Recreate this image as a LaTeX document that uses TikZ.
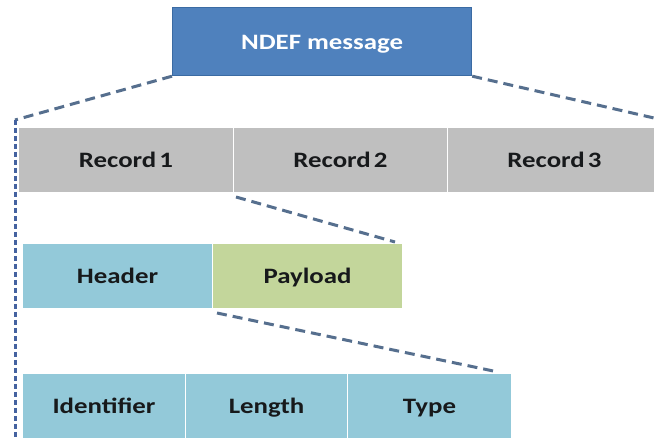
\documentclass[tikz,border=0pt]{standalone}
\usepackage{fontspec}
\newfontfamily\lblfont{Carlito}[FakeStretch=1.22]
\usetikzlibrary{calc}

\definecolor{msgblue}{HTML}{4F81BD}
\definecolor{msgedge}{HTML}{3B6BA3}
\definecolor{recgray}{HTML}{BFBFBF}
\definecolor{hdrblue}{HTML}{93C9D9}
\definecolor{paygreen}{HTML}{C3D69B}
\definecolor{labeltext}{HTML}{17191B}
\definecolor{linkgray}{HTML}{566F8E}
\definecolor{linkblue}{HTML}{4462A0}

\begin{document}
\begin{tikzpicture}[x=1pt, y=-1pt,
  cell/.style={rectangle, draw=white, line width=1pt, anchor=north west,
    inner sep=0pt, text=labeltext, text height=18pt, text depth=2pt,
    font=\lblfont\bfseries\fontsize{22}{26}\selectfont},
  msgbox/.style={cell, fill=msgblue, draw=msgedge, line width=1.2pt, text=white},
  link/.style={draw=linkgray, line width=3pt, dash pattern=on 10pt off 6pt},
  linkv/.style={draw=linkblue, line width=3pt, dash pattern=on 5pt off 3pt}]

\clip (0,0) rectangle (654,438);
\fill[white] (0,0) rectangle (654,438);

% top level: the message
\node[msgbox, minimum width=299pt, minimum height=68pt] (ndef) at (172,7) {NDEF message};

% records of the message
\node[cell, fill=recgray, minimum width=215pt, minimum height=65pt] (r1) at (18,127) {Record\hspace{0.14em}1};
\node[cell, fill=recgray, minimum width=214pt, minimum height=65pt] (r2) at (233,127) {Record\hspace{0.14em}2};
\node[cell, fill=recgray, minimum width=214pt, minimum height=65pt] (r3) at (447,127) {Record\hspace{0.14em}3};

% structure of one record
\node[cell, fill=hdrblue, minimum width=190pt, minimum height=65pt] (hdr) at (22,243) {Header};
\node[cell, fill=paygreen, minimum width=190pt, minimum height=65pt] (pay) at (212,243) {Payload};

% fields of the header
\node[cell, fill=hdrblue, minimum width=163pt, minimum height=65pt] (idf) at (22,373) {Identifier};
\node[cell, fill=hdrblue, minimum width=162pt, minimum height=65pt] (len) at (185,373) {Length};
\node[cell, fill=hdrblue, minimum width=164pt, minimum height=65pt] (typ) at (347,373) {Type};

% zoom-out guides
\coordinate (lc) at (15,120);
\coordinate (lb) at (15,445);
\coordinate (rc) at (680,124);
\draw[link] (ndef.south west) -- (lc);
\draw[linkv] (lc) -- (lb);
\draw[link] (ndef.south east) -- (rc);
\draw[link] ($(r1.south east)+(2,4)$) -- ($(pay.north east)+(-8,-1)$);
\draw[link] ($(hdr.south east)+(4,4)$) -- ($(typ.north east)+(-14,-1)$);
\end{tikzpicture}
\end{document}
